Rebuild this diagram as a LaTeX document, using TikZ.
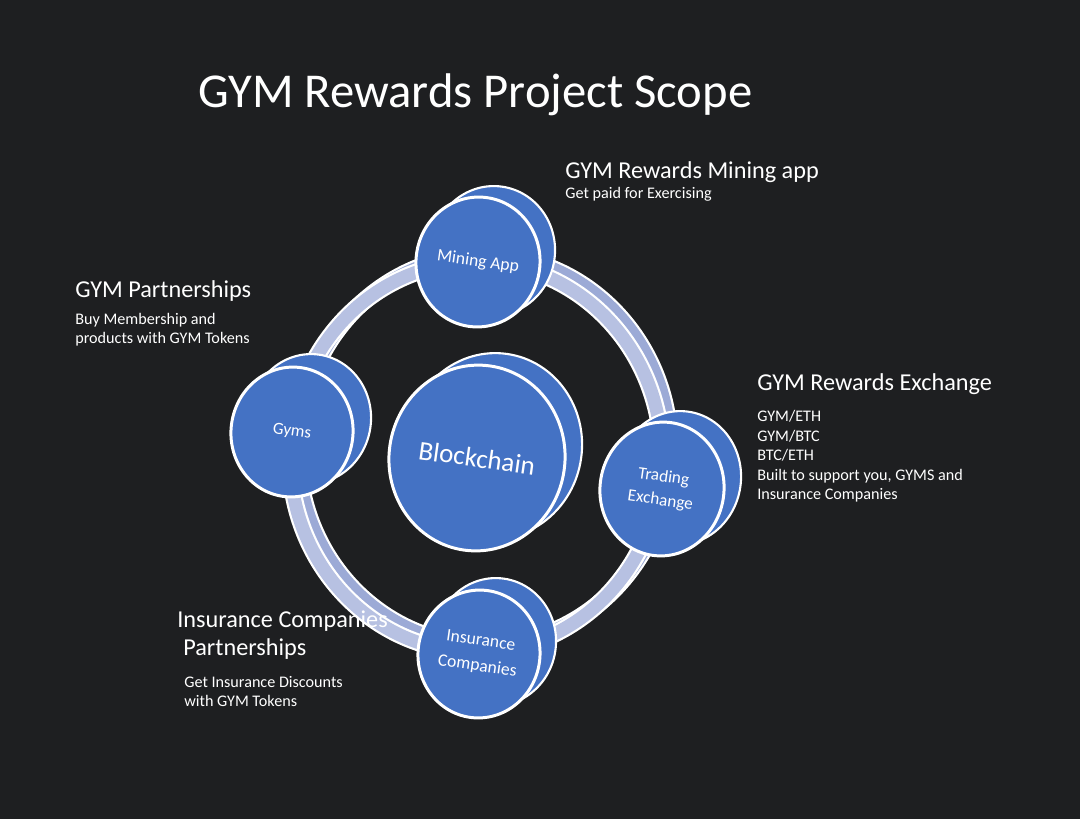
\documentclass[tikz,border=0pt]{standalone}
\usepackage{fontspec}
\setmainfont{Carlito}
\usetikzlibrary{shapes.geometric}
\definecolor{slidebg}{HTML}{1E1F21}
\definecolor{diskblue}{HTML}{4472C4}
\definecolor{ringfront}{HTML}{B7C1E2}
\definecolor{ringback}{HTML}{9CAAD6}

\begin{document}
\begin{tikzpicture}[x=0.02cm, y=-0.02cm,
  disk/.style={ellipse, draw=white, line width=1.7pt, fill=diskblue, text=white, align=center, inner sep=0pt, rotate=-8},
  diskback/.style={ellipse, draw=white, line width=1.2pt, fill=diskblue, rotate=-8},
  head/.style={anchor=base west, text=white, inner sep=0pt, font=\fontsize{13.8}{16.5}\selectfont},
  note/.style={anchor=base west, text=white, inner sep=0pt, font=\fontsize{9.2}{11}\selectfont}]

% Background
\fill[slidebg] (0,0) rectangle (1080,819);
\useasboundingbox (0,0) rectangle (1080,819);

% Title
\node[anchor=base west, text=white, inner sep=0pt, font=\fontsize{27.7}{33}\selectfont] (title) at (198,107) {GYM Rewards Project Scope};

% Ring (back face, then front face)
\draw[white, line width=10pt] (484,450) ellipse (186 and 195);
\draw[ringback, line width=7.5pt] (484,450) ellipse (186 and 195);
\draw[white, line width=10pt] (476,457) ellipse (186 and 195);
\draw[ringfront, line width=7.5pt] (476,457) ellipse (186 and 195);

% Disks: back face first, then front face with label
\node[diskback, minimum width=2.48cm, minimum height=2.6cm] (miningback) at (493,251) {};
\node[disk, minimum width=2.48cm, minimum height=2.6cm, font=\fontsize{10}{12}\selectfont] (mining) at (478,262) {Mining App};

\node[diskback, minimum width=2.44cm, minimum height=2.6cm] (gymsback) at (310,419) {};
\node[disk, minimum width=2.44cm, minimum height=2.6cm, font=\fontsize{9.7}{12}\selectfont] (gyms) at (292,432) {Gyms};

\node[diskback, minimum width=3.52cm, minimum height=3.72cm] (chainback) at (494,446) {};
\node[disk, minimum width=3.52cm, minimum height=3.72cm, font=\fontsize{15.4}{18}\selectfont] (chain) at (477,458) {Blockchain};

\node[diskback, minimum width=2.48cm, minimum height=2.68cm] (tradingback) at (679,478) {};
\node[disk, minimum width=2.48cm, minimum height=2.68cm, font=\fontsize{9.8}{13.6}\selectfont] (trading) at (662,489) {Trading\\Exchange};

\node[diskback, minimum width=2.44cm, minimum height=2.56cm] (insuranceback) at (495,642) {};
\node[disk, minimum width=2.44cm, minimum height=2.56cm, font=\fontsize{10}{14.5}\selectfont] (insurance) at (479,654) {Insurance\\Companies};

% Mining app text
\node[head] (mininghead) at (565,178) {GYM Rewards Mining app};
\node[note] (miningnote) at (565,198) {Get paid for Exercising};

% Gym partnerships text
\node[head] (gymshead) at (75,297) {GYM Partnerships};
\node[note] (gymsnote1) at (75,324) {Buy Membership and};
\node[note] (gymsnote2) at (75,343) {products with GYM Tokens};

% Exchange text
\node[head] (tradinghead) at (757,390) {GYM Rewards Exchange};
\node[note] (tradingnote1) at (757,421) {GYM/ETH};
\node[note] (tradingnote2) at (757,441) {GYM/BTC};
\node[note] (tradingnote3) at (757,460) {BTC/ETH};
\node[note] (tradingnote4) at (757,480) {Built to support you, GYMS and};
\node[note] (tradingnote5) at (757,499) {Insurance Companies};

% Insurance text
\node[head] (insurancehead1) at (177,627) {Insurance Companies};
\node[head] (insurancehead2) at (183,655) {Partnerships};
\node[note] (insurancenote1) at (184,687) {Get Insurance Discounts};
\node[note] (insurancenote2) at (184,706) {with GYM Tokens};

\end{tikzpicture}
\end{document}
